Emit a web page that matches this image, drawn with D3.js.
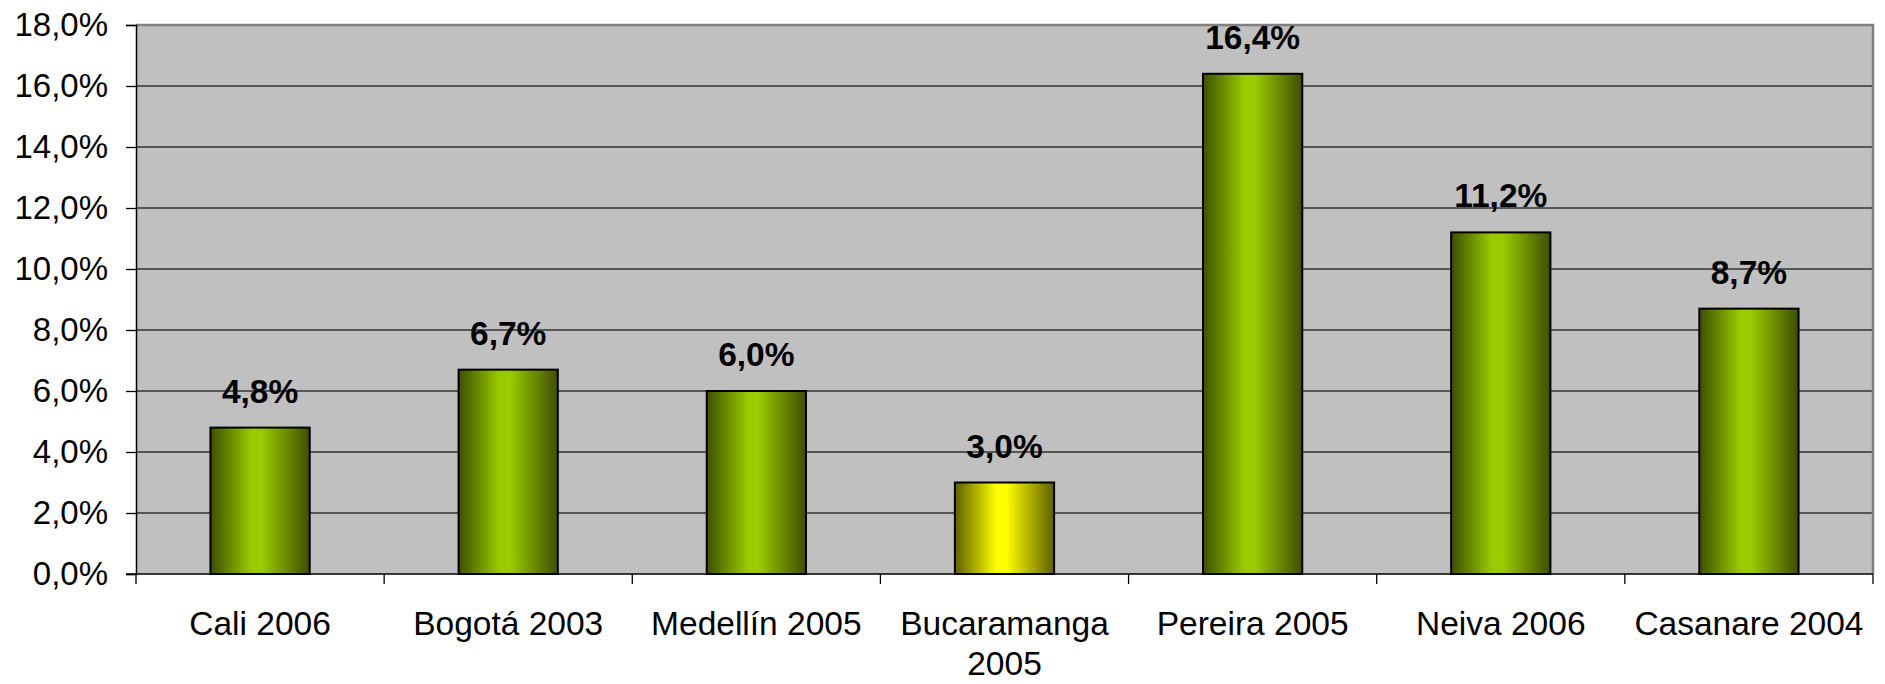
<!DOCTYPE html>
<html>
<head>
<meta charset="utf-8">
<script src="https://cdn.jsdelivr.net/npm/d3@7"></script>
<style>
  body { margin: 0; background: #fff; }
  svg text { font-family: "Liberation Sans", Arial, sans-serif; }
</style>
</head>
<body>
<div id="chart"></div>
<script>
const categories = ["Cali 2006", "Bogotá 2003", "Medellín 2005", "Bucaramanga 2005", "Pereira 2005", "Neiva 2006", "Casanare 2004"];
const values = [4.8, 6.7, 6.0, 3.0, 16.4, 11.2, 8.7];
const highlighted = ["Bucaramanga 2005"];
const yTicks = [0, 2, 4, 6, 8, 10, 12, 14, 16, 18];

const width = 1885, height = 684;
const margin = { top: 25, right: 12, bottom: 110, left: 136 };
const innerW = width - margin.left - margin.right;
const innerH = height - margin.top - margin.bottom;

const svg = d3.select("#chart").append("svg")
  .attr("width", width)
  .attr("height", height);

const defs = svg.append("defs");
function addGradient(id, edgeL, mid, edgeR) {
  const g = defs.append("linearGradient").attr("id", id)
    .attr("x1", "0%").attr("x2", "100%").attr("y1", "0%").attr("y2", "0%");
  g.append("stop").attr("offset", "0%").attr("stop-color", edgeL);
  g.append("stop").attr("offset", "42%").attr("stop-color", mid);
  g.append("stop").attr("offset", "52%").attr("stop-color", mid);
  g.append("stop").attr("offset", "100%").attr("stop-color", edgeR);
}
addGradient("green", "#3e4f00", "#99cc00", "#3f4d00");
addGradient("yellow", "#5e5e00", "#ffff00", "#5e5e00");

const g = svg.append("g").attr("transform", `translate(${margin.left},${margin.top})`);

const x = d3.scaleBand().domain(categories).range([0, innerW]).paddingInner(0.6).paddingOuter(0.3);
const xCat = d3.scaleBand().domain(categories).range([0, innerW]);
const y = d3.scaleLinear().domain([0, 18]).range([innerH, 0]);

// plot background
g.append("rect")
  .attr("width", innerW).attr("height", innerH)
  .attr("fill", "#c0c0c0");

// gridlines
g.append("g").selectAll("line")
  .data(yTicks.filter(d => d > 0 && d < 18))
  .join("line")
  .attr("x1", 0).attr("x2", innerW)
  .attr("y1", d => y(d)).attr("y2", d => y(d))
  .attr("stroke", "#333").attr("stroke-width", 1.3);

// gray border top & right
g.append("path")
  .attr("d", `M0,${y(18)}H${innerW}V${innerH}`)
  .attr("fill", "none").attr("stroke", "#808080").attr("stroke-width", 2.5);

// bars
g.append("g").selectAll("rect")
  .data(categories)
  .join("rect")
  .attr("x", d => x(d))
  .attr("width", x.bandwidth())
  .attr("y", (d, i) => y(values[i]))
  .attr("height", (d, i) => innerH - y(values[i]))
  .attr("fill", d => highlighted.includes(d) ? "url(#yellow)" : "url(#green)")
  .attr("stroke", "#000").attr("stroke-width", 2);

// value labels
g.append("g").selectAll("text")
  .data(categories)
  .join("text")
  .attr("x", d => x(d) + x.bandwidth() / 2)
  .attr("y", (d, i) => y(values[i]) - 25)
  .attr("text-anchor", "middle")
  .attr("font-size", 33.5).attr("font-weight", "bold")
  .text((d, i) => d3.format(".1f")(values[i]).replace(".", ",") + "%");

// y axis
const yAxis = g.append("g")
  .call(d3.axisLeft(y).tickValues(yTicks).tickSize(10).tickPadding(18)
    .tickFormat(d => d3.format(".1f")(d).replace(".", ",") + "%"));
yAxis.select(".domain").attr("stroke", "#000").attr("stroke-width", 1.5);
yAxis.selectAll(".tick line").attr("stroke", "#000").attr("stroke-width", 1.3);
yAxis.selectAll("text").attr("font-size", 33).attr("fill", "#000")
  .attr("font-family", '"Liberation Sans", Arial, sans-serif');

// x axis
const xAxisG = g.append("g").attr("transform", `translate(0,${innerH})`);
xAxisG.append("line").attr("x1", -10).attr("x2", innerW)
  .attr("stroke", "#000").attr("stroke-width", 1.5);
xAxisG.selectAll(".cat-tick")
  .data(d3.range(categories.length + 1))
  .join("line")
  .attr("x1", i => i * xCat.step()).attr("x2", i => i * xCat.step())
  .attr("y1", 0).attr("y2", 10)
  .attr("stroke", "#000").attr("stroke-width", 1.3);

const catText = xAxisG.selectAll(".cat")
  .data(categories)
  .join("text")
  .attr("x", d => xCat(d) + xCat.bandwidth() / 2)
  .attr("y", 61)
  .attr("text-anchor", "middle")
  .attr("font-size", 33.5);
catText.each(function (d) {
  const t = d3.select(this);
  const parts = d === "Bucaramanga 2005" ? ["Bucaramanga", "2005"] : [d];
  parts.forEach((p, k) => {
    t.append("tspan")
      .attr("x", xCat(d) + xCat.bandwidth() / 2)
      .attr("dy", k === 0 ? 0 : 40)
      .text(p);
  });
});
</script>
</body>
</html>
